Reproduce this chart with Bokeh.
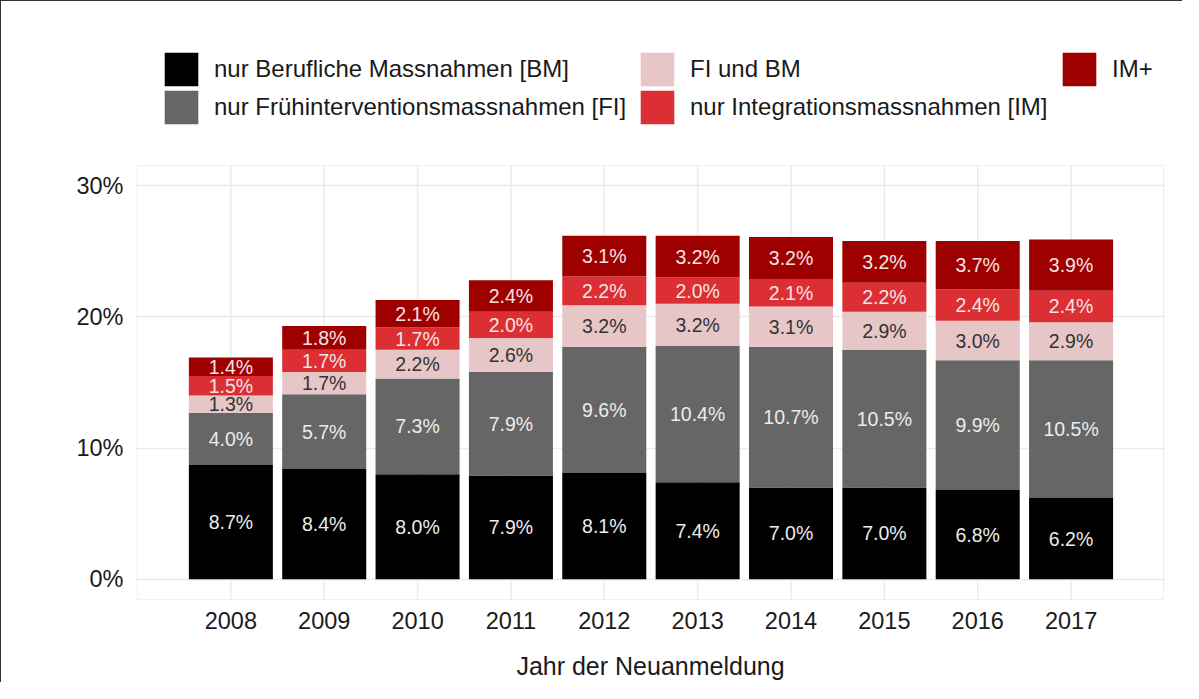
import numpy as np
from bokeh.plotting import figure
from bokeh.models import (ColumnDataSource, Range1d, FixedTicker, Legend, LegendItem,
                          BoxAnnotation)
from bokeh.core.properties import value
from bokeh.embed import file_html
from bokeh.resources import INLINE

# ---------------- data ----------------
years = ["2008", "2009", "2010", "2011", "2012", "2013", "2014", "2015", "2016", "2017"]
series_names = [
    "nur Berufliche Massnahmen [BM]",
    "nur Frühinterventionsmassnahmen [FI]",
    "FI und BM",
    "nur Integrationsmassnahmen [IM]",
    "IM+",
]
bm = [8.7, 8.4, 8.0, 7.9, 8.1, 7.4, 7.0, 7.0, 6.8, 6.2]
fi = [4.0, 5.7, 7.3, 7.9, 9.6, 10.4, 10.7, 10.5, 9.9, 10.5]
fi_bm = [1.3, 1.7, 2.2, 2.6, 3.2, 3.2, 3.1, 2.9, 3.0, 2.9]
im = [1.5, 1.7, 1.7, 2.0, 2.2, 2.0, 2.1, 2.2, 2.4, 2.4]
im_plus = [1.4, 1.8, 2.1, 2.4, 3.1, 3.2, 3.2, 3.2, 3.7, 3.9]
y_ticks = [0, 10, 20, 30]
y_tick_labels = ["0%", "10%", "20%", "30%"]
x_title = "Jahr der Neuanmeldung"

# ---------------- style ----------------
colors = ["#000000", "#666666", "#e6c6c6", "#dc2f33", "#9e0000"]
label_colors = ["#ececec", "#ececec", "#333333", "#f4e4e4", "#f4e4e4"]
FONT = "Liberation Sans"

# panel extent (data units) and frame extent (slightly larger, room for legend on top)
panel_x = (-1.0, 9.99)
panel_y = (-1.55, 31.55)
frame_x = (-1.0214, 10.0114)
frame_y = (-1.7025, 44.057)

series = [bm, fi, fi_bm, im, im_plus]
keys = ["bm", "fi", "fi_bm", "im", "im_plus"]
xpos = list(range(len(years)))

data = {"x": xpos, "year": years}
for k, s in zip(keys, series):
    data[k] = s
source = ColumnDataSource(data)

p = figure(
    width=1182, height=682,
    x_range=Range1d(*frame_x), y_range=Range1d(*frame_y),
    output_backend="svg", toolbar_location=None,
    min_border_left=134, min_border_right=18,
    min_border_top=0, min_border_bottom=82,
    background_fill_color="white", border_fill_color="white",
    styles={"border-left": "1px solid #333333", "border-top": "1px solid #333333"},
)
p.outline_line_color = None

# vertical grid lines restricted to the panel
p.segment(x0=xpos, x1=xpos, y0=[panel_y[0]] * len(xpos), y1=[panel_y[1]] * len(xpos),
          line_color="#ebebeb", line_width=1.5)

renderers = p.vbar_stack(keys, x="x", width=0.9, color=colors, line_color=None, source=source)

# bar labels
bottoms = np.zeros(len(years))
for s, col in zip(series, label_colors):
    arr = np.array(s)
    mids = bottoms + arr / 2.0
    lsrc = ColumnDataSource({"x": xpos, "y": list(mids), "t": [f"{v:.1f}%" for v in s]})
    p.text(x="x", y="y", text="t", source=lsrc, text_align="center", text_baseline="middle",
           text_color=col, text_font=value(FONT), text_font_size="19.5px")
    bottoms = bottoms + arr

# panel border
p.add_layout(BoxAnnotation(left=panel_x[0], right=panel_x[1], bottom=panel_y[0], top=panel_y[1],
                           fill_alpha=0, line_color="#cccccc", line_width=1, level="underlay"))

# axes
p.xaxis.ticker = FixedTicker(ticks=xpos)
p.xaxis.major_label_overrides = {i: y for i, y in enumerate(years)}
p.yaxis.ticker = FixedTicker(ticks=y_ticks)
p.yaxis.major_label_overrides = {t: l for t, l in zip(y_ticks, y_tick_labels)}
for ax in (p.xaxis[0], p.yaxis[0]):
    ax.axis_line_color = None
    ax.major_tick_line_color = None
    ax.minor_tick_line_color = None
    ax.major_tick_out = 0
    ax.major_tick_in = 0
    ax.major_label_text_font = FONT
    ax.major_label_text_font_size = "23.5px"
    ax.major_label_text_color = "#1a1a1a"
p.yaxis.major_label_standoff = 12
p.xaxis.major_label_standoff = 10
p.xaxis.axis_label = x_title
p.xaxis.axis_label_text_font = FONT
p.xaxis.axis_label_text_font_size = "25px"
p.xaxis.axis_label_text_font_style = "normal"
p.xaxis.axis_label_text_color = "#1a1a1a"
p.xaxis.axis_label_standoff = 20

p.xgrid.visible = False
p.ygrid.ticker = FixedTicker(ticks=y_ticks)
p.ygrid.grid_line_color = "#ebebeb"
p.ygrid.grid_line_width = 1.5

# legend: one small legend per entry, arranged in 3 columns x 2 rows above the panel
legend_slots = [(25, 511), (25, 473), (501, 511), (501, 473), (923, 511)]
for i, loc in enumerate(legend_slots):
    lg = Legend(items=[LegendItem(label=series_names[i], renderers=[renderers[i]])],
                location=loc, orientation="vertical",
                glyph_width=42, glyph_height=42, label_standoff=12, spacing=0,
                padding=0, margin=0, border_line_color=None, background_fill_alpha=0,
                label_text_font=FONT, label_text_font_size="24px", label_text_color="#1a1a1a",
                label_height=34)
    p.add_layout(lg, "center")

open("out.html", "w").write(file_html(p, INLINE))
